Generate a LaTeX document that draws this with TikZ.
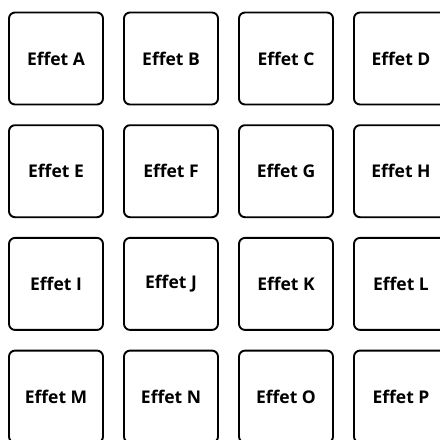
\documentclass[tikz,border=0pt]{standalone}
\usepackage{fontspec}
\setmainfont{Open Sans}
\usetikzlibrary{positioning}

\begin{document}
\begin{tikzpicture}[
            pad/.style={rectangle, rounded corners=6pt, draw=black, line width=1.9pt,
                        minimum width=94pt, minimum height=92pt, inner sep=0pt,
                        font=\fontsize{17.5}{20}\selectfont\bfseries}
        ]
            \useasboundingbox (0pt,0pt) rectangle (440pt,-440pt);
            % 4x4 grid of effect pads
            \foreach \lbl [count=\i from 0] in {A,B,C,D,E,F,G,H,I,J,K,L,M,N,O,P} {
                \pgfmathsetmacro{\padx}{56+115*mod(\i,4)}
                \pgfmathsetmacro{\pady}{58.5+112.7*int(\i/4)}
                \node[pad] (pad\lbl) at (\padx pt, -\pady pt) {Effet \lbl};
            }
        \end{tikzpicture}
\end{document}
